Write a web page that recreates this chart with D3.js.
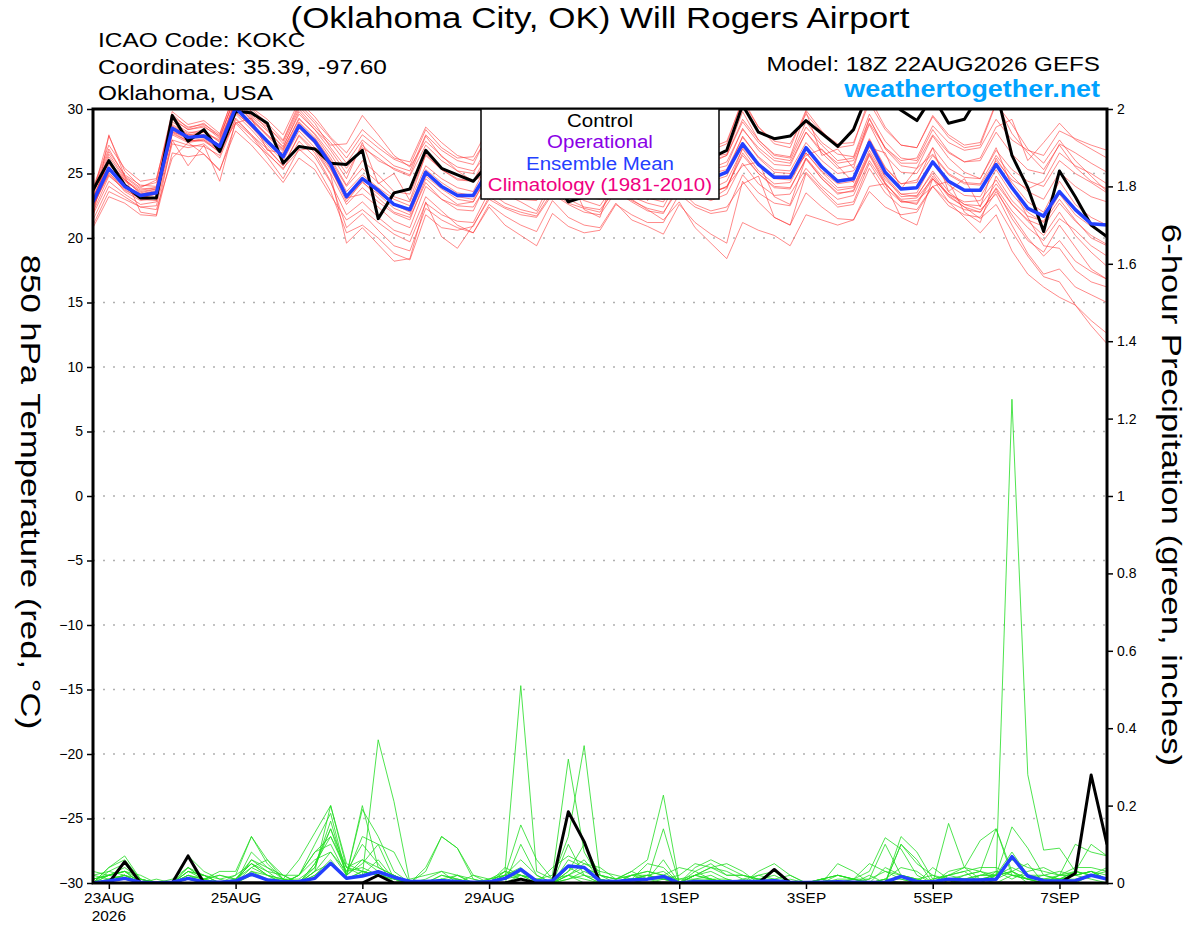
<!DOCTYPE html>
<html>
<head>
<meta charset="utf-8">
<script src="https://cdn.jsdelivr.net/npm/d3@7"></script>
<style>
  body { margin: 0; background: #fff; }
  text { font-family: "Liberation Sans", Arial, sans-serif; }
</style>
</head>
<body>
<div id="vis"></div>
<script>
// 6-hourly steps from 18Z 22AUG2026 to 18Z 07SEP2026 (65 points)

// Ensemble mean 850 hPa temperature (blue)
const meanTemp = [22.8,
  25.4,24.0,23.3,23.5, 28.5,27.8,27.9,27.1, 30.1,28.8,27.5,26.3, 28.7,27.5,25.7,23.2,
  24.6,23.7,22.6,22.2, 25.1,24.0,23.3,23.3, 25.3,24.4,23.8,23.6, 25.5,24.5,23.9,23.7,
  25.6,24.6,24.0,23.8, 25.8,24.8,24.6,25.1, 27.3,25.7,24.7,24.7, 27.0,25.5,24.4,24.6,
  27.4,25.1,23.8,23.9, 25.9,24.4,23.7,23.7, 25.7,23.9,22.3,21.7, 23.6,22.2,21.1,21.0];

// Control 850 hPa temperature (black)
const controlTemp = [23.7,
  26.0,24.1,23.1,23.1, 29.5,27.5,28.4,26.7, 29.8,29.7,28.9,25.8, 27.1,26.9,25.8,25.7,
  26.8,21.5,23.5,23.8, 26.8,25.4,24.9,24.4, 25.8,24.6,24.0,23.5, 24.8,22.8,23.2,23.8,
  25.5,25.0,24.6,24.8, 26.5,26.0,26.2,26.8, 30.3,28.2,27.7,27.9, 29.1,28.1,27.1,28.4,
  31.5,31.0,29.9,29.1, 31.0,28.9,29.2,31.2, 31.5,26.4,23.9,20.5, 25.2,23.2,21.0,20.1];

// Ensemble members 850 hPa temperature (red)
const memberTemps = [
  [23.5, 27.9,25.2,24.0,24.3, 29.6,28.5,28.9,27.8, 31.0,29.8,28.4,27.0, 29.8,28.4,26.8,25.0, 27.2,26.0,25.4,24.9, 27.9,26.3,25.5,25.2, 26.6,27.0,24.6,25.6, 27.8,26.4,25.6,25.1, 27.6,26.0,25.4,25.5, 28.0,26.8,26.3,26.5, 29.8,27.6,26.4,26.2, 29.0,27.4,26.5,26.3, 29.6,27.5,26.2,26.0, 28.4,26.7,25.9,26.0, 28.2,26.5,25.3,25.0, 27.3,26.6,25.8,25.1],
  [21.0, 23.6,23.0,22.4,22.2, 26.2,27.4,26.5,25.2, 28.9,27.6,26.5,25.4, 26.8,27.0,25.3,23.1, 23.4,22.4,21.3,20.8, 24.0,23.0,22.5,22.4, 24.4,23.4,22.8,22.1, 24.6,23.6,22.9,22.5, 24.3,23.2,22.7,22.4, 24.7,23.8,23.5,24.0, 26.4,25.0,24.0,23.9, 26.1,24.6,23.4,23.7, 26.5,24.3,22.8,22.7, 24.8,23.2,22.4,22.0, 23.8,21.5,19.8,18.9, 21.0,19.3,17.6,16.8],
  [23.0, 26.0,24.5,23.7,23.9, 29.0,28.2,28.2,27.6, 30.6,29.3,28.0,26.8, 29.3,28.0,26.2,24.1, 26.0,24.9,23.6,23.4, 26.4,25.3,24.5,24.4, 26.8,25.8,25.0,24.6, 26.9,25.8,25.1,24.7, 26.7,25.8,25.2,25.0, 27.0,26.0,25.8,26.4, 29.0,27.4,26.2,26.0, 28.6,27.2,26.0,26.2, 29.2,27.0,25.8,25.8, 28.0,26.6,25.9,26.2, 28.6,29.2,26.0,27.4, 28.9,27.6,26.9,26.2],
  [22.4, 25.1,23.6,22.9,23.1, 28.0,27.4,27.6,26.8, 29.8,28.6,27.2,26.0, 28.3,27.0,25.0,22.6, 23.9,22.8,21.9,21.4, 24.6,23.5,22.6,22.8, 25.0,24.0,23.4,23.2, 25.0,24.1,23.5,23.2, 25.2,24.0,23.3,23.0, 25.4,24.2,23.8,24.4, 26.9,25.2,24.2,24.3, 26.6,25.1,23.9,24.0, 26.8,24.7,23.2,23.3, 25.0,23.3,22.4,21.5, 22.6,20.5,18.6,17.0, 16.6,14.8,13.2,11.8],
  [21.8, 24.4,23.4,22.6,22.8, 27.6,27.2,27.1,26.4, 29.3,28.0,26.9,25.6, 27.9,26.6,24.4,20.8, 21.9,20.6,19.4,19.0, 22.3,21.4,20.8,20.4, 22.6,21.7,21.0,20.5, 22.9,21.6,21.0,20.8, 22.7,21.4,20.9,20.3, 22.6,21.2,20.3,19.6, 24.4,22.8,21.6,21.0, 23.5,22.4,21.5,21.4, 24.0,24.2,21.6,21.0, 24.6,23.4,22.6,22.5, 24.2,22.6,21.4,20.9, 22.7,21.3,20.2,19.5],
  [23.8, 26.9,24.8,23.9,24.5, 29.8,28.8,29.1,28.1, 31.4,30.0,28.9,27.6, 30.4,29.1,27.7,26.2, 28.0,27.0,26.1,25.6, 28.4,27.0,26.2,26.3, 28.6,27.3,26.6,26.3, 28.8,27.4,26.6,26.0, 28.6,27.1,26.5,26.4, 28.8,27.6,27.0,27.5, 30.6,28.6,27.5,27.3, 29.6,28.2,27.3,27.4, 30.5,28.4,27.2,27.0, 29.4,27.8,27.0,27.2, 30.4,28.8,26.9,25.8, 27.6,26.0,24.8,23.6],
  [22.0, 24.8,23.8,23.0,22.9, 28.3,27.6,27.5,26.7, 29.6,28.4,27.0,25.6, 28.0,26.8,24.9,19.6, 20.8,19.5,18.2,18.4, 22.8,20.1,19.2,21.0, 23.0,22.3,21.8,21.6, 23.4,22.6,22.0,21.8, 23.6,22.8,22.1,21.9, 24.2,23.3,22.9,23.4, 25.8,24.2,23.3,23.4, 25.4,24.0,23.0,23.3, 26.0,24.2,23.0,23.1, 24.6,23.4,22.8,22.9, 24.5,22.6,21.3,20.2, 22.0,20.2,18.9,17.8],
  [23.2, 25.7,24.4,23.6,23.8, 28.8,28.1,28.4,27.4, 30.4,29.2,27.9,26.7, 29.0,27.8,26.0,24.0, 25.4,24.3,23.2,22.8, 25.6,24.6,23.9,23.6, 26.0,25.0,24.4,24.3, 26.6,25.4,24.5,24.3, 26.3,25.2,24.6,24.4, 26.4,25.4,25.0,25.3, 27.8,26.3,25.3,25.2, 27.4,26.0,25.0,25.2, 27.0,26.6,23.8,25.4, 26.5,25.0,24.3,24.2, 26.4,24.8,23.6,23.0, 25.1,24.0,23.2,22.8],
  [22.6, 25.0,23.9,23.2,23.4, 28.4,27.7,27.8,27.0, 30.0,28.7,27.4,26.2, 28.9,27.6,25.8,23.0, 24.3,23.4,22.3,21.8, 24.8,23.8,23.0,22.8, 25.1,24.2,23.6,23.4, 25.6,24.4,23.7,23.4, 25.3,24.4,23.6,23.2, 24.6,25.4,23.0,23.8, 27.0,25.6,24.6,24.5, 26.6,25.2,24.2,24.4, 27.1,24.8,23.4,23.2, 25.2,23.6,22.6,22.2, 23.4,21.0,18.8,17.2, 17.6,16.2,15.6,15.0],
  [22.9, 26.3,24.6,23.4,23.7, 28.6,28.0,28.0,27.2, 30.8,29.4,28.3,27.1, 29.6,28.4,27.2,27.3, 29.5,28.0,26.4,25.5, 27.5,26.4,25.2,24.4, 25.1,26.0,24.8,23.2, 26.0,24.9,24.0,23.8, 26.1,25.1,24.3,24.0, 26.2,25.1,24.7,25.0, 27.9,26.2,25.1,25.0, 26.4,26.9,25.6,24.3, 27.7,25.5,24.2,24.5, 26.4,24.9,24.2,24.1, 26.0,24.5,23.8,24.4, 26.6,25.6,25.0,24.2],
  [21.4, 24.0,23.2,22.4,22.5, 27.3,27.0,27.3,26.2, 29.2,28.0,26.6,25.3, 27.5,26.3,24.3,21.8, 22.8,21.6,20.6,20.2, 23.2,22.1,21.0,20.4, 22.4,21.0,20.2,19.4, 21.9,20.9,20.4,20.6, 22.6,21.8,21.2,21.2, 23.4,22.4,21.9,22.1, 24.9,23.5,22.7,22.5, 25.1,23.8,22.6,22.8, 25.8,23.9,22.8,22.9, 24.0,24.4,22.0,21.2, 24.8,22.9,21.7,21.3, 23.4,21.8,20.9,20.1],
  [23.3, 26.5,24.7,23.8,23.9, 29.2,28.4,28.6,27.9, 30.9,29.5,28.6,27.5, 30.2,28.9,27.0,25.4, 27.0,26.2,25.3,24.8, 27.2,26.0,25.2,25.0, 27.4,26.3,25.6,25.3, 27.5,26.2,25.4,25.2, 27.3,26.2,25.5,25.4, 27.6,26.5,26.0,26.4, 29.2,27.6,26.5,26.3, 29.8,26.4,26.9,25.4, 29.3,26.9,25.6,25.4, 27.9,26.2,25.1,24.6, 27.0,24.0,21.6,19.4, 19.2,17.5,16.6,16.2],
  [22.2, 25.5,24.2,23.3,23.0, 28.2,27.5,27.7,26.9, 28.9,29.3,26.8,26.6, 28.5,27.3,25.4,22.8, 24.4,23.1,22.0,21.6, 24.3,23.0,22.2,22.1, 24.7,23.6,23.0,22.9, 25.2,24.0,23.2,23.0, 25.0,23.9,23.1,22.8, 25.0,23.9,23.4,24.0, 25.6,25.9,23.2,22.6, 26.2,24.8,23.7,23.9, 26.6,24.5,23.4,23.5, 25.8,24.1,23.3,23.2, 25.3,23.4,22.0,21.2, 23.0,21.4,20.0,19.4],
  [21.6, 28.0,24.8,22.0,21.8, 27.6,25.6,27.2,24.4, 29.0,27.9,26.3,24.6, 26.9,25.8,23.6,20.4, 21.0,20.0,18.8,18.3, 21.8,20.8,20.6,20.9, 23.2,22.4,22.0,21.7, 23.6,22.7,22.3,22.0, 24.0,23.0,22.2,21.4, 22.8,20.8,19.6,18.4, 21.2,20.6,20.2,19.4, 21.8,21.4,21.0,21.4, 23.6,22.4,21.8,22.0, 24.0,22.8,22.2,22.0, 23.9,22.1,20.8,19.8, 21.5,20.6,19.4,18.6],
  [23.6, 26.7,24.9,24.1,24.0, 29.3,28.4,28.7,27.7, 31.2,29.8,28.7,27.3, 30.0,28.6,27.4,25.8, 27.6,26.6,25.6,25.2, 28.0,26.8,26.0,25.7, 28.2,26.9,26.2,25.8, 28.3,27.0,26.1,25.6, 28.0,26.7,26.0,26.0, 28.5,27.3,26.8,27.3, 30.8,28.6,27.3,27.0, 29.9,28.3,27.0,27.2, 30.9,28.6,27.2,27.0, 29.5,28.0,27.2,27.4, 30.5,28.1,26.6,25.3, 27.2,25.5,24.4,23.8],
  [22.5, 24.9,23.7,23.1,23.4, 28.1,27.5,27.6,26.6, 29.7,28.7,27.6,26.4, 28.7,27.7,25.9,23.6, 24.9,23.9,23.0,22.5, 25.3,24.3,23.5,23.3, 25.6,24.6,23.9,23.7, 25.9,24.7,24.0,23.9, 24.6,25.8,22.9,24.6, 26.0,24.9,24.4,24.8, 27.4,25.8,24.8,24.8, 27.0,25.6,24.5,24.7, 27.6,25.4,24.2,24.3, 27.0,23.6,24.6,22.4, 26.2,24.3,22.8,22.0, 24.4,22.6,21.6,21.0],
  [20.8, 23.2,22.7,21.8,21.7, 26.6,26.3,26.5,25.3, 28.3,27.2,25.8,24.3, 26.2,25.3,23.3,21.4, 22.2,21.2,20.3,19.7, 22.7,21.8,21.3,21.2, 23.6,22.7,22.2,21.9, 24.0,23.0,22.4,22.2, 23.8,22.9,22.3,22.0, 23.8,22.6,22.1,22.4, 24.2,24.8,21.6,21.0, 25.0,23.6,22.4,22.6, 25.4,23.5,22.4,22.2, 24.0,22.5,21.8,21.6, 23.6,21.8,20.0,18.6, 19.8,18.2,17.4,16.8],
  [23.9, 27.2,25.4,24.4,24.6, 29.4,28.6,28.8,28.0, 31.5,30.1,29.2,28.0, 30.6,29.4,27.8,26.6, 28.4,27.3,26.2,25.9, 28.6,27.4,26.4,26.0, 28.0,26.8,26.0,25.6, 27.4,26.1,25.2,24.9, 27.0,25.8,25.0,24.8, 27.0,25.8,25.3,25.6, 28.5,26.8,25.7,25.6, 28.2,26.6,25.4,25.7, 28.8,26.4,25.1,25.0, 27.0,25.4,24.7,24.6, 26.8,25.3,24.4,24.0, 26.0,25.0,24.3,23.5],
  [22.7, 25.3,24.1,23.4,23.6, 28.2,27.9,28.0,27.2, 30.2,28.9,27.6,26.4, 28.8,27.5,25.6,23.2, 24.7,23.5,22.6,22.0, 25.0,24.0,23.2,23.0, 25.2,24.2,23.5,23.2, 24.0,25.0,22.2,21.6, 25.3,24.2,23.5,23.4, 25.5,24.2,23.6,23.9, 26.6,25.0,23.9,23.8, 26.2,24.6,23.5,23.6, 26.4,24.2,22.9,22.6, 24.6,22.8,21.6,20.4, 21.8,19.0,17.2,16.2, 15.4,14.8,13.6,12.6],
  [23.1, 25.9,24.5,23.5,23.8, 28.7,28.0,28.2,27.5, 30.5,29.1,28.0,26.9, 29.2,28.1,26.5,24.6, 27.4,24.2,25.0,22.9, 26.5,25.3,24.6,24.4, 26.3,25.2,24.6,24.5, 26.7,25.5,24.8,24.6, 26.5,25.5,24.8,24.7, 26.9,25.8,25.4,25.9, 28.4,27.0,26.0,25.8, 28.2,26.8,25.8,26.0, 28.9,27.0,26.0,26.2, 28.7,27.4,26.8,27.0, 29.2,27.6,26.8,26.4, 28.3,27.7,27.2,26.8]
];

// Ensemble mean 6-hour precipitation, inches (blue)
const meanPrecip = [0,
  0.005,0.012,0.002,0, 0.002,0.012,0.003,0.002, 0.005,0.023,0.008,0.003, 0.004,0.012,0.051,0.012,
  0.018,0.029,0.015,0.004, 0.004,0.006,0.004,0.002, 0.003,0.012,0.035,0.005, 0.006,0.044,0.04,0.005,
  0.004,0.008,0.01,0.017, 0,0.004,0.003,0.003, 0.004,0.004,0.006,0.002, 0.001,0.002,0.003,0.002,
  0.001,0.002,0.017,0.004, 0.003,0.01,0.008,0.008, 0.01,0.068,0.018,0.006, 0.005,0.006,0.02,0.01];

// Control 6-hour precipitation (black)
const controlPrecip = [0,
  0,0.055,0,0, 0,0.07,0,0, 0,0,0,0, 0,0,0,0,
  0,0.02,0,0, 0,0,0,0, 0,0,0.01,0, 0,0.184,0.107,0,
  0,0,0,0, 0,0,0,0, 0,0,0.035,0, 0,0,0,0,
  0,0,0,0, 0,0,0,0, 0,0,0,0, 0,0.025,0.279,0.1];

// Ensemble members 6-hour precipitation (green)
const memberPrecips = [
  [0, 0.03,0.05,0,0, 0,0.02,0,0, 0,0.03,0.01,0, 0,0.02,0.05,0.01, 0.02,0.37,0.21,0, 0,0,0.01,0, 0,0,0,0, 0,0.02,0,0, 0,0,0,0, 0,0,0,0, 0,0,0,0, 0,0,0,0, 0,0,0,0, 0,0,0,0, 0.02,0.03,0,0, 0,0,0,0],
  [0, 0.02,0.03,0,0, 0,0.04,0.01,0.02, 0.01,0.05,0.02,0, 0.02,0.08,0.12,0.03, 0.1,0.05,0,0, 0.01,0.03,0.02,0, 0,0.03,0.51,0.03, 0.01,0.02,0.01,0, 0,0.01,0.02,0.03, 0,0,0,0, 0,0,0,0.01, 0,0,0,0, 0,0,0.02,0.01, 0,0,0.01,0.01, 0.02,0.04,0.02,0.01, 0.01,0.02,0.03,0.01],
  [0.02, 0.01,0.02,0,0, 0,0.01,0.02,0, 0,0.04,0.06,0.01, 0,0.05,0.14,0.04, 0.02,0.06,0.01,0, 0,0.01,0,0, 0,0.04,0.02,0.01, 0.02,0.32,0.08,0.01, 0,0,0.01,0.06, 0,0.02,0.04,0.05, 0.03,0,0,0, 0,0.01,0,0, 0,0,0.1,0.06, 0,0.01,0.02,0.03, 0.01,0.03,0.01,0, 0.01,0.03,0.02,0.01],
  [0, 0.04,0.07,0.01,0, 0,0.07,0.03,0.01, 0.02,0.12,0.05,0.01, 0,0.03,0.2,0.05, 0.03,0.02,0,0, 0,0,0.02,0.01, 0,0.02,0.15,0.06, 0.01,0.12,0.355,0.02, 0.01,0.03,0.01,0.01, 0.02,0.05,0.04,0.02, 0.02,0.01,0,0, 0,0,0,0, 0.02,0,0,0, 0.04,0.01,0,0.02, 0.02,0.03,0.05,0, 0.02,0.02,0.03,0.01],
  [0.01, 0.02,0.04,0.01,0, 0,0.03,0.02,0.01, 0,0.08,0.04,0.02, 0,0.04,0.16,0.02, 0.12,0.1,0.01,0, 0.04,0.12,0.09,0.02, 0,0,0.1,0.02, 0,0.06,0.04,0.02, 0.01,0.03,0.06,0.227, 0,0.03,0.05,0.02, 0.02,0.01,0.01,0.02, 0,0,0.05,0.03, 0,0,0.12,0.08, 0.01,0.02,0.03,0, 0.03,0.02,0.01,0, 0.02,0.1,0.08,0.07],
  [0, 0,0.02,0,0, 0,0.01,0,0, 0,0.06,0.03,0, 0.02,0.1,0.18,0.02, 0.2,0.04,0.02,0, 0,0,0,0, 0.01,0.02,0.04,0, 0,0.1,0.02,0, 0,0.02,0.01,0.14, 0,0.02,0.04,0.03, 0.01,0,0,0, 0,0,0.01,0.01, 0.05,0.03,0.01,0, 0,0,0.02,0.03, 0.14,0.02,0.02,0.02, 0.01,0.01,0.02,0.01],
  [0, 0.01,0.02,0,0, 0,0.01,0,0, 0,0.02,0.01,0, 0,0.02,0.06,0.01, 0.03,0.02,0,0, 0,0,0,0, 0,0.01,0.03,0, 0,0.04,0.02,0, 0,0,0,0.01, 0,0.01,0.01,0, 0,0,0,0, 0,0,0,0, 0,0.01,0,0, 0,0.01,0.01,0.01, 0.02,1.25,0.28,0.085, 0.09,0.03,0.02,0.04],
  [0.02, 0.03,0.02,0.01,0, 0,0.03,0.02,0, 0.02,0.05,0.03,0.02, 0,0.03,0.08,0.02, 0.06,0.04,0.02,0, 0,0.02,0.01,0, 0,0.01,0.02,0.01, 0,0.03,0.06,0.01, 0,0.02,0.03,0.02, 0.04,0.03,0.01,0, 0,0.03,0.05,0.02, 0,0.01,0.02,0.01, 0,0.01,0.04,0.03, 0,0.154,0.04,0.01, 0,0.02,0.01,0, 0,0,0.02,0.01],
  [0, 0.02,0.03,0,0, 0,0.04,0.02,0, 0.01,0.06,0.04,0.01, 0,0.05,0.12,0.04, 0.06,0.03,0,0.01, 0.02,0.03,0,0, 0,0.02,0.06,0.02, 0,0.03,0.1,0.02, 0.01,0.02,0.02,0.01, 0,0.02,0.03,0.01, 0,0.02,0.03,0, 0,0.01,0,0.01, 0.03,0.117,0.088,0.02, 0,0.03,0.04,0.03, 0.02,0.06,0.04,0.03, 0.02,0.04,0.04,0.03],
  [0.01, 0.02,0.03,0.01,0, 0,0.02,0.01,0.02, 0.01,0.04,0.02,0.01, 0.06,0.13,0.2,0.04, 0.03,0.02,0.01,0, 0,0,0,0.02, 0.01,0.03,0.02,0, 0.04,0.07,0.05,0.03, 0.02,0.01,0.05,0.04, 0,0.04,0.06,0.04, 0.02,0.01,0,0, 0,0,0,0.01, 0,0,0.1,0.05, 0.02,0,0.01,0.02, 0.03,0.01,0.03,0.04, 0.02,0.02,0.01,0],
  [0, 0.01,0.02,0,0, 0,0.02,0.01,0, 0,0.03,0.02,0.01, 0.01,0.04,0.14,0.02, 0.19,0.12,0.03,0, 0,0.01,0.02,0, 0,0,0.02,0.01, 0,0.01,0.03,0.01, 0,0.01,0.02,0.01, 0.01,0.02,0.01,0.01, 0,0,0,0, 0,0,0,0, 0.01,0.1,0.02,0, 0.01,0.02,0.01,0, 0.02,0.08,0.02,0.01, 0.01,0.03,0.1,0.07],
  [0.03, 0.02,0.01,0,0.01, 0,0.01,0.01,0.03, 0.03,0.12,0.06,0.02, 0.02,0.08,0.1,0.02, 0.05,0.1,0.08,0, 0,0.01,0,0, 0.01,0.02,0.01,0, 0,0.01,0.02,0.01, 0,0,0.01,0, 0,0,0.01,0, 0,0,0,0, 0,0.01,0.02,0.01, 0,0.01,0.01,0, 0,0.02,0.03,0.04, 0.04,0.02,0.01,0.02, 0.03,0.02,0.03,0.01],
  [0, 0.04,0.06,0.01,0, 0.01,0.04,0.01,0, 0,0.02,0.01,0.01, 0,0.03,0.05,0.01, 0.03,0.02,0.01,0, 0.03,0.12,0.09,0.01, 0,0.02,0.02,0, 0,0.02,0.04,0.02, 0,0.01,0.02,0.01, 0,0.02,0.01,0, 0,0.01,0.02,0, 0,0,0.02,0.01, 0,0.04,0.02,0.01, 0.02,0.01,0.01,0.02, 0.02,0.145,0.09,0.02, 0.01,0.02,0.03,0.02],
  [0.01, 0.02,0.03,0.02,0, 0,0.03,0.01,0, 0.01,0.05,0.02,0, 0.02,0.06,0.08,0.03, 0.04,0.02,0.02,0, 0,0.02,0.01,0, 0,0.03,0.01,0, 0,0.02,0.05,0.04, 0.01,0.02,0.03,0.02, 0.01,0.01,0.02,0, 0.01,0.02,0.01,0, 0,0.01,0.02,0.01, 0.01,0.03,0.02,0.01, 0,0.02,0.04,0.11, 0.14,0.03,0.01,0.01, 0.02,0.03,0.02,0.03]
];

// axis ticks and labels
const tempTicks = [-30, -25, -20, -15, -10, -5, 0, 5, 10, 15, 20, 25, 30];
const precipTicks = [0, 0.2, 0.4, 0.6, 0.8, 1, 1.2, 1.4, 1.6, 1.8, 2];
const dateTicks = ["2026-08-23", "2026-08-25", "2026-08-27", "2026-08-29", "2026-09-01", "2026-09-03", "2026-09-05", "2026-09-07"];
const dateLabels = ["23AUG", "25AUG", "27AUG", "29AUG", "1SEP", "3SEP", "5SEP", "7SEP"];
const legendItems = ["Control", "Operational", "Ensemble Mean", "Climatology (1981-2010)"];
const legendColors = ["#000000", "#8a00e6", "#2440ff", "#f0007f"];

// SVG canvas
const width = 1200;
const height = 927;
const plot = {left: 93, right: 1107, top: 109, bottom: 883};

const svg = d3.select('#vis').append('svg')
    .attr('width', width)
    .attr('height', height);

// the plotting program draws its lettering wider than Arial, stretch to match
function stretch(sel, k) {
    sel.each(function () {
        const len = this.getComputedTextLength();
        d3.select(this).attr('textLength', len * k).attr('lengthAdjust', 'spacingAndGlyphs');
    });
}

const startTime = Date.UTC(2026, 7, 22, 18);
const times = controlTemp.map((d, i) => new Date(startTime + i * 6 * 3600 * 1000));

const x = d3.scaleUtc()
    .domain([times[0], times[times.length - 1]])
    .range([plot.left, plot.right]);
const yT = d3.scaleLinear().domain([-30, 30]).range([plot.bottom, plot.top]);
const yP = d3.scaleLinear().domain([0, 2]).range([plot.bottom, plot.top]);

svg.append('defs').append('clipPath').attr('id', 'plotclip')
    .append('rect')
    .attr('x', plot.left).attr('y', plot.top)
    .attr('width', plot.right - plot.left).attr('height', plot.bottom - plot.top);

// dotted grid on temperature ticks
svg.append('g')
    .selectAll('line')
    .data(tempTicks.filter(t => t > -30 && t < 30))
    .join('line')
    .attr('x1', plot.left).attr('x2', plot.right)
    .attr('y1', d => yT(d)).attr('y2', d => yT(d))
    .attr('stroke', '#b0b0b0')
    .attr('stroke-width', 1.5)
    .attr('stroke-dasharray', '2,8');

const lineT = d3.line().x((d, i) => x(times[i])).y(d => yT(d));
const lineP = d3.line().x((d, i) => x(times[i])).y(d => yP(d));

const lines = svg.append('g').attr('clip-path', 'url(#plotclip)');

lines.append('g')
    .selectAll('path')
    .data(memberTemps)
    .join('path')
    .attr('d', lineT)
    .attr('fill', 'none')
    .attr('stroke', '#ff3b3b')
    .attr('stroke-opacity', 0.75)
    .attr('stroke-width', 0.8);

lines.append('g')
    .selectAll('path')
    .data(memberPrecips)
    .join('path')
    .attr('d', lineP)
    .attr('fill', 'none')
    .attr('stroke', '#22dd22')
    .attr('stroke-width', 0.8);

lines.append('path')
    .attr('d', lineT(controlTemp))
    .attr('fill', 'none').attr('stroke', '#000').attr('stroke-width', 3)
    .attr('stroke-linejoin', 'round');

lines.append('path')
    .attr('d', lineT(meanTemp))
    .attr('fill', 'none').attr('stroke', '#2440ff').attr('stroke-width', 3.5)
    .attr('stroke-linejoin', 'round');

lines.append('path')
    .attr('d', lineP(controlPrecip))
    .attr('fill', 'none').attr('stroke', '#000').attr('stroke-width', 3)
    .attr('stroke-linejoin', 'round');

lines.append('path')
    .attr('d', lineP(meanPrecip))
    .attr('fill', 'none').attr('stroke', '#2440ff').attr('stroke-width', 3.5)
    .attr('stroke-linejoin', 'round');

// frame
svg.append('rect')
    .attr('x', plot.left).attr('y', plot.top)
    .attr('width', plot.right - plot.left).attr('height', plot.bottom - plot.top)
    .attr('fill', 'none').attr('stroke', '#000').attr('stroke-width', 3);

// axes
const leftAxis = svg.append('g')
    .attr('transform', `translate(${plot.left},0)`)
    .call(d3.axisLeft(yT).tickValues(tempTicks).tickSize(6).tickPadding(4));

const rightAxis = svg.append('g')
    .attr('transform', `translate(${plot.right},0)`)
    .call(d3.axisRight(yP).tickValues(precipTicks).tickSize(6).tickPadding(4).tickFormat(d3.format('~g')));

const bottomAxis = svg.append('g')
    .attr('transform', `translate(0,${plot.bottom})`)
    .call(d3.axisBottom(x)
        .tickValues(dateTicks.map(d => new Date(d + 'T00:00:00Z')))
        .tickSize(6).tickPadding(4)
        .tickFormat((d, i) => dateLabels[i]));

[leftAxis, rightAxis, bottomAxis].forEach(a => {
    a.select('.domain').remove();
    a.selectAll('.tick line').attr('stroke-width', 1.5);
    a.selectAll('text').attr('font-size', 14).attr('fill', '#000')
        .attr('font-family', '"Liberation Sans", Arial, sans-serif');
});
stretch(bottomAxis.selectAll('text'), 1.1);

stretch(svg.append('text')
    .attr('x', x(new Date(dateTicks[0] + 'T00:00:00Z')))
    .attr('y', 921)
    .attr('text-anchor', 'middle')
    .attr('font-size', 14)
    .text('2026'), 1.1);

// titles
stretch(svg.append('text')
    .attr('x', 600).attr('y', 28)
    .attr('text-anchor', 'middle')
    .attr('font-size', 30)
    .text('(Oklahoma City, OK) Will Rogers Airport'), 1.165);

const info = ['ICAO Code: KOKC', 'Coordinates: 35.39, -97.60', 'Oklahoma, USA'];
stretch(svg.append('g')
    .selectAll('text')
    .data(info)
    .join('text')
    .attr('x', 98)
    .attr('y', (d, i) => 47 + i * 26.5)
    .attr('font-size', 20.5)
    .text(d => d), 1.19);

stretch(svg.append('text')
    .attr('x', 1100).attr('y', 71)
    .attr('text-anchor', 'end')
    .attr('font-size', 20.5)
    .text('Model: 18Z 22AUG2026 GEFS'), 1.18);

stretch(svg.append('text')
    .attr('x', 1100).attr('y', 97)
    .attr('text-anchor', 'end')
    .attr('font-size', 23)
    .attr('font-weight', 'bold')
    .attr('fill', '#00a2ff')
    .text('weathertogether.net'), 1.17);

stretch(svg.append('text')
    .attr('transform', 'translate(21,492) rotate(90)')
    .attr('text-anchor', 'middle')
    .attr('font-size', 28)
    .text('850 hPa Temperature (red, \u00B0C)'), 1.24);

stretch(svg.append('text')
    .attr('transform', 'translate(1162,495) rotate(90)')
    .attr('text-anchor', 'middle')
    .attr('font-size', 28)
    .text('6-hour Precipitation (green, inches)'), 1.24);

// legend box
const legend = svg.append('g');
legend.append('rect')
    .attr('x', 481).attr('y', plot.top)
    .attr('width', 238).attr('height', 90)
    .attr('fill', '#fff')
    .attr('stroke', '#000')
    .attr('stroke-width', 1.5);

stretch(legend.selectAll('text')
    .data(legendItems)
    .join('text')
    .attr('x', 600)
    .attr('y', (d, i) => 127 + i * 21.3)
    .attr('text-anchor', 'middle')
    .attr('font-size', 17.5)
    .attr('fill', (d, i) => legendColors[i])
    .text(d => d), 1.17);
</script>
</body>
</html>
